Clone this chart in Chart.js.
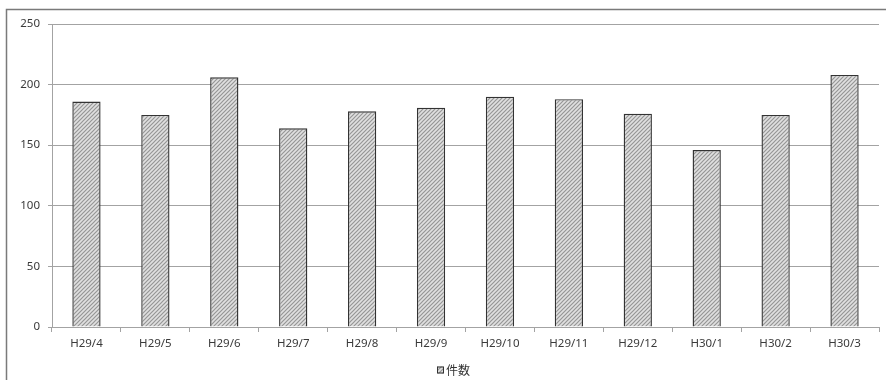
<!DOCTYPE html>
<html>
<head>
<meta charset="utf-8">
<script src="https://cdn.jsdelivr.net/npm/chart.js@4/dist/chart.umd.min.js"></script>
<style>
  html, body { margin: 0; padding: 0; background: #fff; }
  #wrap { position: absolute; left: 0; top: 0; width: 886px; height: 380px; }
</style>
</head>
<body>
<div id="wrap"><canvas id="c" width="886" height="380"></canvas></div>
<script>
// Monthly counts, H29/4 – H30/3
const months = ['H29/4', 'H29/5', 'H29/6', 'H29/7', 'H29/8', 'H29/9', 'H29/10', 'H29/11', 'H29/12', 'H30/1', 'H30/2', 'H30/3'];
const counts = [186, 175, 206, 164, 178, 181, 190, 188, 176, 146, 175, 208];
const seriesName = '件数';
const yTicks = [0, 50, 100, 150, 200, 250];

// Diagonal hatch fill used for the bars and the legend swatch
function makeHatch() {
  const t = document.createElement('canvas');
  t.width = 4; t.height = 4;
  const g = t.getContext('2d');
  g.fillStyle = '#e0e0e0';
  g.fillRect(0, 0, 4, 4);
  g.strokeStyle = '#969696';
  g.lineWidth = 1.2;
  g.beginPath();
  g.moveTo(-1, 5); g.lineTo(5, -1);
  g.moveTo(-1, 1); g.lineTo(1, -1);
  g.moveTo(3, 5); g.lineTo(5, 3);
  g.stroke();
  return g.createPattern(t, 'repeat');
}
const hatch = makeHatch();

// Outer frame around the chart (top and left edges show in the view)
const framePlugin = {
  id: 'frame',
  afterDraw(chart) {
    const ctx = chart.ctx;
    ctx.save();
    ctx.strokeStyle = '#7a7a7a';
    ctx.lineWidth = 1.5;
    ctx.beginPath();
    ctx.moveTo(6.5, 400);
    ctx.lineTo(6.5, 9.5);
    ctx.lineTo(890, 9.5);
    ctx.stroke();
    ctx.restore();
  }
};

// Compact legend centred under the plot: swatch + series name
const legendPlugin = {
  id: 'compactLegend',
  afterDraw(chart) {
    const ds = chart.data.datasets[0];
    const ctx = chart.ctx;
    ctx.save();
    ctx.font = '12px "Noto Sans CJK JP", sans-serif';
    const tw = ctx.measureText(ds.label).width;
    const box = 7, gap = 2;
    const total = box + gap + tw;
    const cx = (chart.chartArea.left + chart.chartArea.right) / 2 - 12;
    const x0 = Math.round(cx - total / 2);
    const cy = 370;
    ctx.fillStyle = ds.backgroundColor;
    ctx.fillRect(x0, cy - 3.5, box, box);
    ctx.strokeStyle = ds.borderColor;
    ctx.lineWidth = 1;
    ctx.strokeRect(x0 + 0.5, cy - 3.5 + 0.5, box - 1, box - 1);
    ctx.fillStyle = '#333';
    ctx.textBaseline = 'middle';
    ctx.textAlign = 'left';
    ctx.fillText(ds.label, x0 + box + gap, cy);
    ctx.restore();
  }
};

const gridColor = '#a3a3a3';
const tickFont = { family: '"Noto Sans", "Open Sans", sans-serif', size: 11.5 };

new Chart(document.getElementById('c'), {
  type: 'bar',
  data: {
    labels: months,
    datasets: [{
      label: seriesName,
      data: counts,
      backgroundColor: hatch,
      borderColor: '#333333',
      borderWidth: 1.4,
      borderSkipped: 'bottom',
      categoryPercentage: 1.0,
      barPercentage: 0.41
    }]
  },
  options: {
    responsive: false,
    animation: false,
    devicePixelRatio: 1,
    layout: { padding: { left: 0, top: 24, right: 7, bottom: 0 } },
    events: [],
    plugins: {
      tooltip: { enabled: false },
      legend: { display: false }
    },
    scales: {
      x: {
        offset: true,
        grid: {
          display: true,
          offset: true,
          drawOnChartArea: false,
          drawTicks: true,
          tickLength: 5,
          color: gridColor
        },
        border: { display: true, color: gridColor, width: 1 },
        ticks: { color: '#3a3a3a', font: tickFont, padding: 5, maxRotation: 0, autoSkip: false },
        afterFit(scale) { scale.height = 53; }
      },
      y: {
        min: 0,
        max: 250,
        afterBuildTicks(scale) { scale.ticks = yTicks.map(v => ({ value: v })); },
        grid: {
          color: gridColor,
          drawTicks: true,
          tickLength: 4
        },
        border: { display: true, color: gridColor, width: 1 },
        ticks: { color: '#3a3a3a', font: tickFont, padding: 8 },
        afterFit(scale) { scale.width = 52; }
      }
    }
  },
  plugins: [framePlugin, legendPlugin]
});
</script>
</body>
</html>
